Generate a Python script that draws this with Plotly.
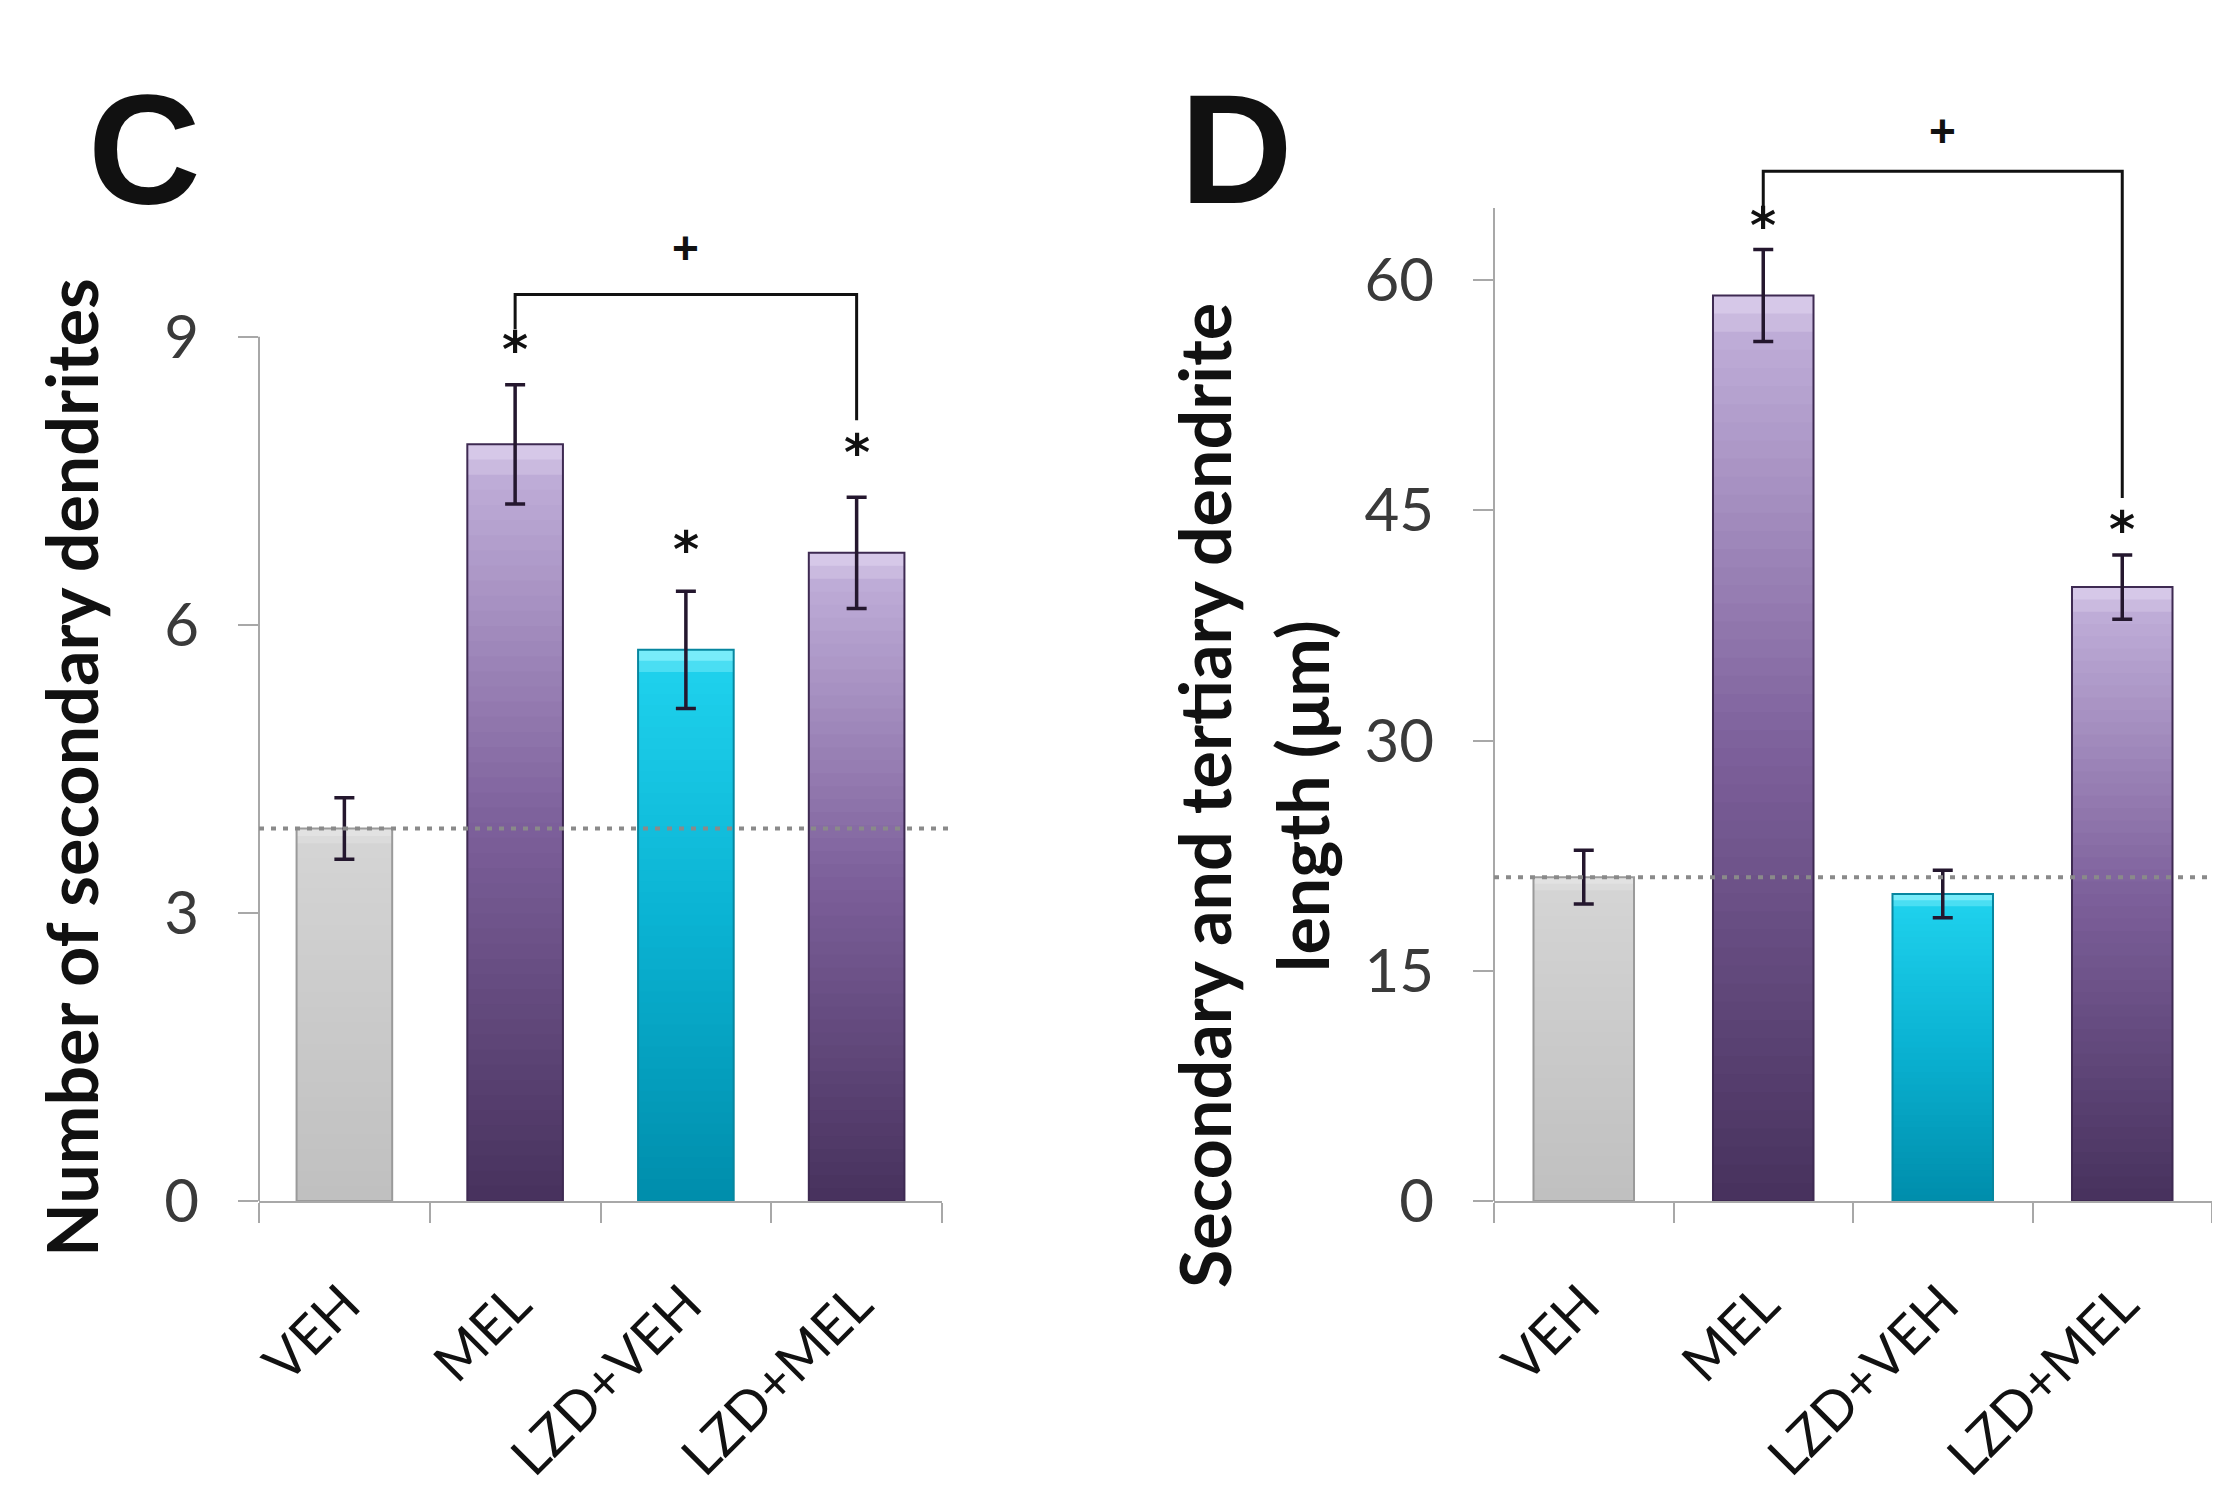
import plotly.graph_objects as go

# groups and values
groups = ["VEH", "MEL", "LZD+VEH", "LZD+MEL"]

sec_mean = [3.88, 7.88, 5.74, 6.75]
sec_err = [0.32, 0.62, 0.61, 0.58]
sec_ticks = [0, 3, 6, 9]

len_mean = [21.1, 59.0, 20.0, 40.0]
len_err = [1.75, 3.0, 1.55, 2.1]
len_ticks = [0, 15, 30, 45, 60]

# significance marks
sec_star = [None, 8.86, 6.78, 7.79]
len_star = [None, 63.5, None, 43.7]
sec_bracket = [9.08, 9.44, 8.13]   # left leg start, top, right leg start
len_bracket = [64.4, 67.1, 45.8]
sec_plus = 9.93
len_plus = 69.7

# page body has an 8px margin, so the figure is a little smaller than the window
OFF = 8
W, H = 2220 - OFF, 1497 - OFF


def px(X):
    return (X - OFF) / W


def py(Y):
    return 1 - (Y - OFF) / H


tick_font = dict(family="Lato", size=60, color="#3a3a3a")
title_font = dict(family="Lato", size=70, color="#111111")

# colour ramps top -> bottom, (position, rgb)
ramps = {
    "gray": [(0, (226, 226, 226)), (0.04, (212, 212, 212)), (0.5, (202, 202, 202)), (1, (192, 192, 192))],
    "purple": [(0, (214, 200, 232)), (0.04, (190, 172, 215)), (0.5, (125, 96, 155)), (1, (72, 50, 94))],
    "cyan": [(0, (120, 236, 250)), (0.04, (30, 208, 236)), (0.5, (10, 178, 210)), (1, (0, 142, 172))],
}
bar_kind = ["gray", "purple", "cyan", "purple"]
edge_col = {"gray": "#9a9a9a", "purple": "#3e2a52", "cyan": "#07869f"}


def ramp_color(stops, t):
    # t=0 top, t=1 bottom
    for (p0, a), (p1, b) in zip(stops[:-1], stops[1:]):
        if t <= p1:
            f = (t - p0) / (p1 - p0)
            c = [round(a[i] + (b[i] - a[i]) * f) for i in range(3)]
            return "rgb({},{},{})".format(*c)
    return "rgb({},{},{})".format(*stops[-1][1])


fig = go.Figure()
N = 50
for xa, ya, means, errs in [("x", "y", sec_mean, sec_err), ("x2", "y2", len_mean, len_err)]:
    # stepped gradient: overlaid bars of shrinking height
    for k in range(N):
        frac = 1 - k / N
        fig.add_trace(go.Bar(
            x=groups, y=[m * frac for m in means], width=0.56,
            marker=dict(color=[ramp_color(ramps[bk], k / (N - 1)) for bk in bar_kind], line=dict(width=0)),
            xaxis=xa, yaxis=ya, showlegend=False, hoverinfo="skip"))
    # outline
    fig.add_trace(go.Bar(
        x=groups, y=means, width=0.56,
        marker=dict(color="rgba(0,0,0,0)", line=dict(color=[edge_col[bk] for bk in bar_kind], width=2)),
        xaxis=xa, yaxis=ya, showlegend=False, hoverinfo="skip"))
    # error bars
    fig.add_trace(go.Scatter(
        x=groups, y=means, mode="markers", marker=dict(opacity=0),
        error_y=dict(type="data", array=errs, color="#24172e", thickness=3.5, width=10),
        xaxis=xa, yaxis=ya, showlegend=False, hoverinfo="skip"))

xdomC = [px(259), px(942)]
xdomD = [px(1494), px(2212)]
rangeC = [0, 10.3]
rangeD = [0, 72]
ydomC = [py(1201), py(212)]
ydomD = [py(1201), py(96)]

axis_common = dict(showgrid=False, zeroline=False, automargin=False)
xcommon = dict(axis_common, type="category", showline=True, linecolor="#a8a8a8", linewidth=2,
               ticks="outside", tickson="boundaries", ticklen=20, tickwidth=2, tickcolor="#a8a8a8",
               tickangle=-45, tickfont=dict(family="Lato", size=54, color="#111111"),
               range=[-0.5, 3.5], ticklabelstandoff=48)
ycommon = dict(axis_common, showline=False, ticks="outside", ticklen=20, tickwidth=2,
               tickcolor="#a8a8a8", tickfont=tick_font, ticklabelstandoff=27)

fig.update_layout(
    width=W, height=H, margin=dict(l=0, r=0, t=0, b=0, autoexpand=False),
    paper_bgcolor="white", plot_bgcolor="white", barmode="overlay",
    xaxis=dict(xcommon, domain=xdomC, anchor="y"),
    yaxis=dict(ycommon, domain=ydomC, range=rangeC, tickvals=sec_ticks, anchor="x"),
    xaxis2=dict(xcommon, domain=xdomD, anchor="y2"),
    yaxis2=dict(ycommon, domain=ydomD, range=rangeD, tickvals=len_ticks, anchor="x2"),
)

shapes = []
for xr, yr, top, ref, br in [("x", "y", 9, sec_mean[0], sec_bracket), ("x2", "y2", 64.7, len_mean[0], len_bracket)]:
    # y axis line only up to the last tick
    shapes.append(dict(type="line", xref=xr + " domain", yref=yr, x0=0, x1=0, y0=0, y1=top,
                       line=dict(color="#a8a8a8", width=2)))
    # dotted baseline at VEH level
    shapes.append(dict(type="line", xref=xr + " domain", yref=yr, x0=0, x1=1.015, y0=ref, y1=ref,
                       line=dict(color="#8a8a8a", width=4, dash="5px,7px")))
    # bracket MEL -> LZD+MEL
    shapes.append(dict(type="path", xref=xr, yref=yr,
                       path="M 1,{} L 1,{} L 3,{} L 3,{}".format(br[0], br[1], br[1], br[2]),
                       line=dict(color="#111111", width=3)))

star_font = dict(family="DejaVu Sans", size=50, color="#111111")
plus_font = dict(family="Liberation Sans", size=46, color="#111111")
annotations = []
for xr, yr, stars in [("x", "y", sec_star), ("x2", "y2", len_star)]:
    for g, s in zip(groups, stars):
        if s is not None:
            annotations.append(dict(x=g, y=s, xref=xr, yref=yr, text="<b>*</b>", showarrow=False,
                                    font=star_font, xanchor="center", yanchor="middle"))
annotations.append(dict(x=2, y=sec_plus, xref="x", yref="y", text="<b>+</b>", showarrow=False,
                        font=plus_font, xanchor="center", yanchor="middle"))
annotations.append(dict(x=2, y=len_plus, xref="x2", yref="y2", text="<b>+</b>", showarrow=False,
                        font=plus_font, xanchor="center", yanchor="middle"))

# panel letters
letter_font = dict(family="Liberation Sans", size=156, color="#111111")
annotations.append(dict(x=px(144), y=py(149), xref="paper", yref="paper", text="<b>C</b>",
                        showarrow=False, font=letter_font, xanchor="center", yanchor="middle"))
annotations.append(dict(x=px(1236), y=py(149), xref="paper", yref="paper", text="<b>D</b>",
                        showarrow=False, font=letter_font, xanchor="center", yanchor="middle"))

# axis titles
annotations.append(dict(x=px(71), y=py(768), xref="paper", yref="paper",
                        text="<b>Number of secondary dendrites</b>", textangle=-90, showarrow=False,
                        font=title_font, xanchor="center", yanchor="middle"))
annotations.append(dict(x=px(1204), y=py(796), xref="paper", yref="paper",
                        text="<b>Secondary and tertiary dendrite</b>", textangle=-90, showarrow=False,
                        font=title_font, xanchor="center", yanchor="middle"))
annotations.append(dict(x=px(1302), y=py(796), xref="paper", yref="paper",
                        text="<b>length (\u03bcm)</b>", textangle=-90, showarrow=False,
                        font=title_font, xanchor="center", yanchor="middle"))

fig.update_layout(shapes=shapes, annotations=annotations)

fig.write_html("out.html")
